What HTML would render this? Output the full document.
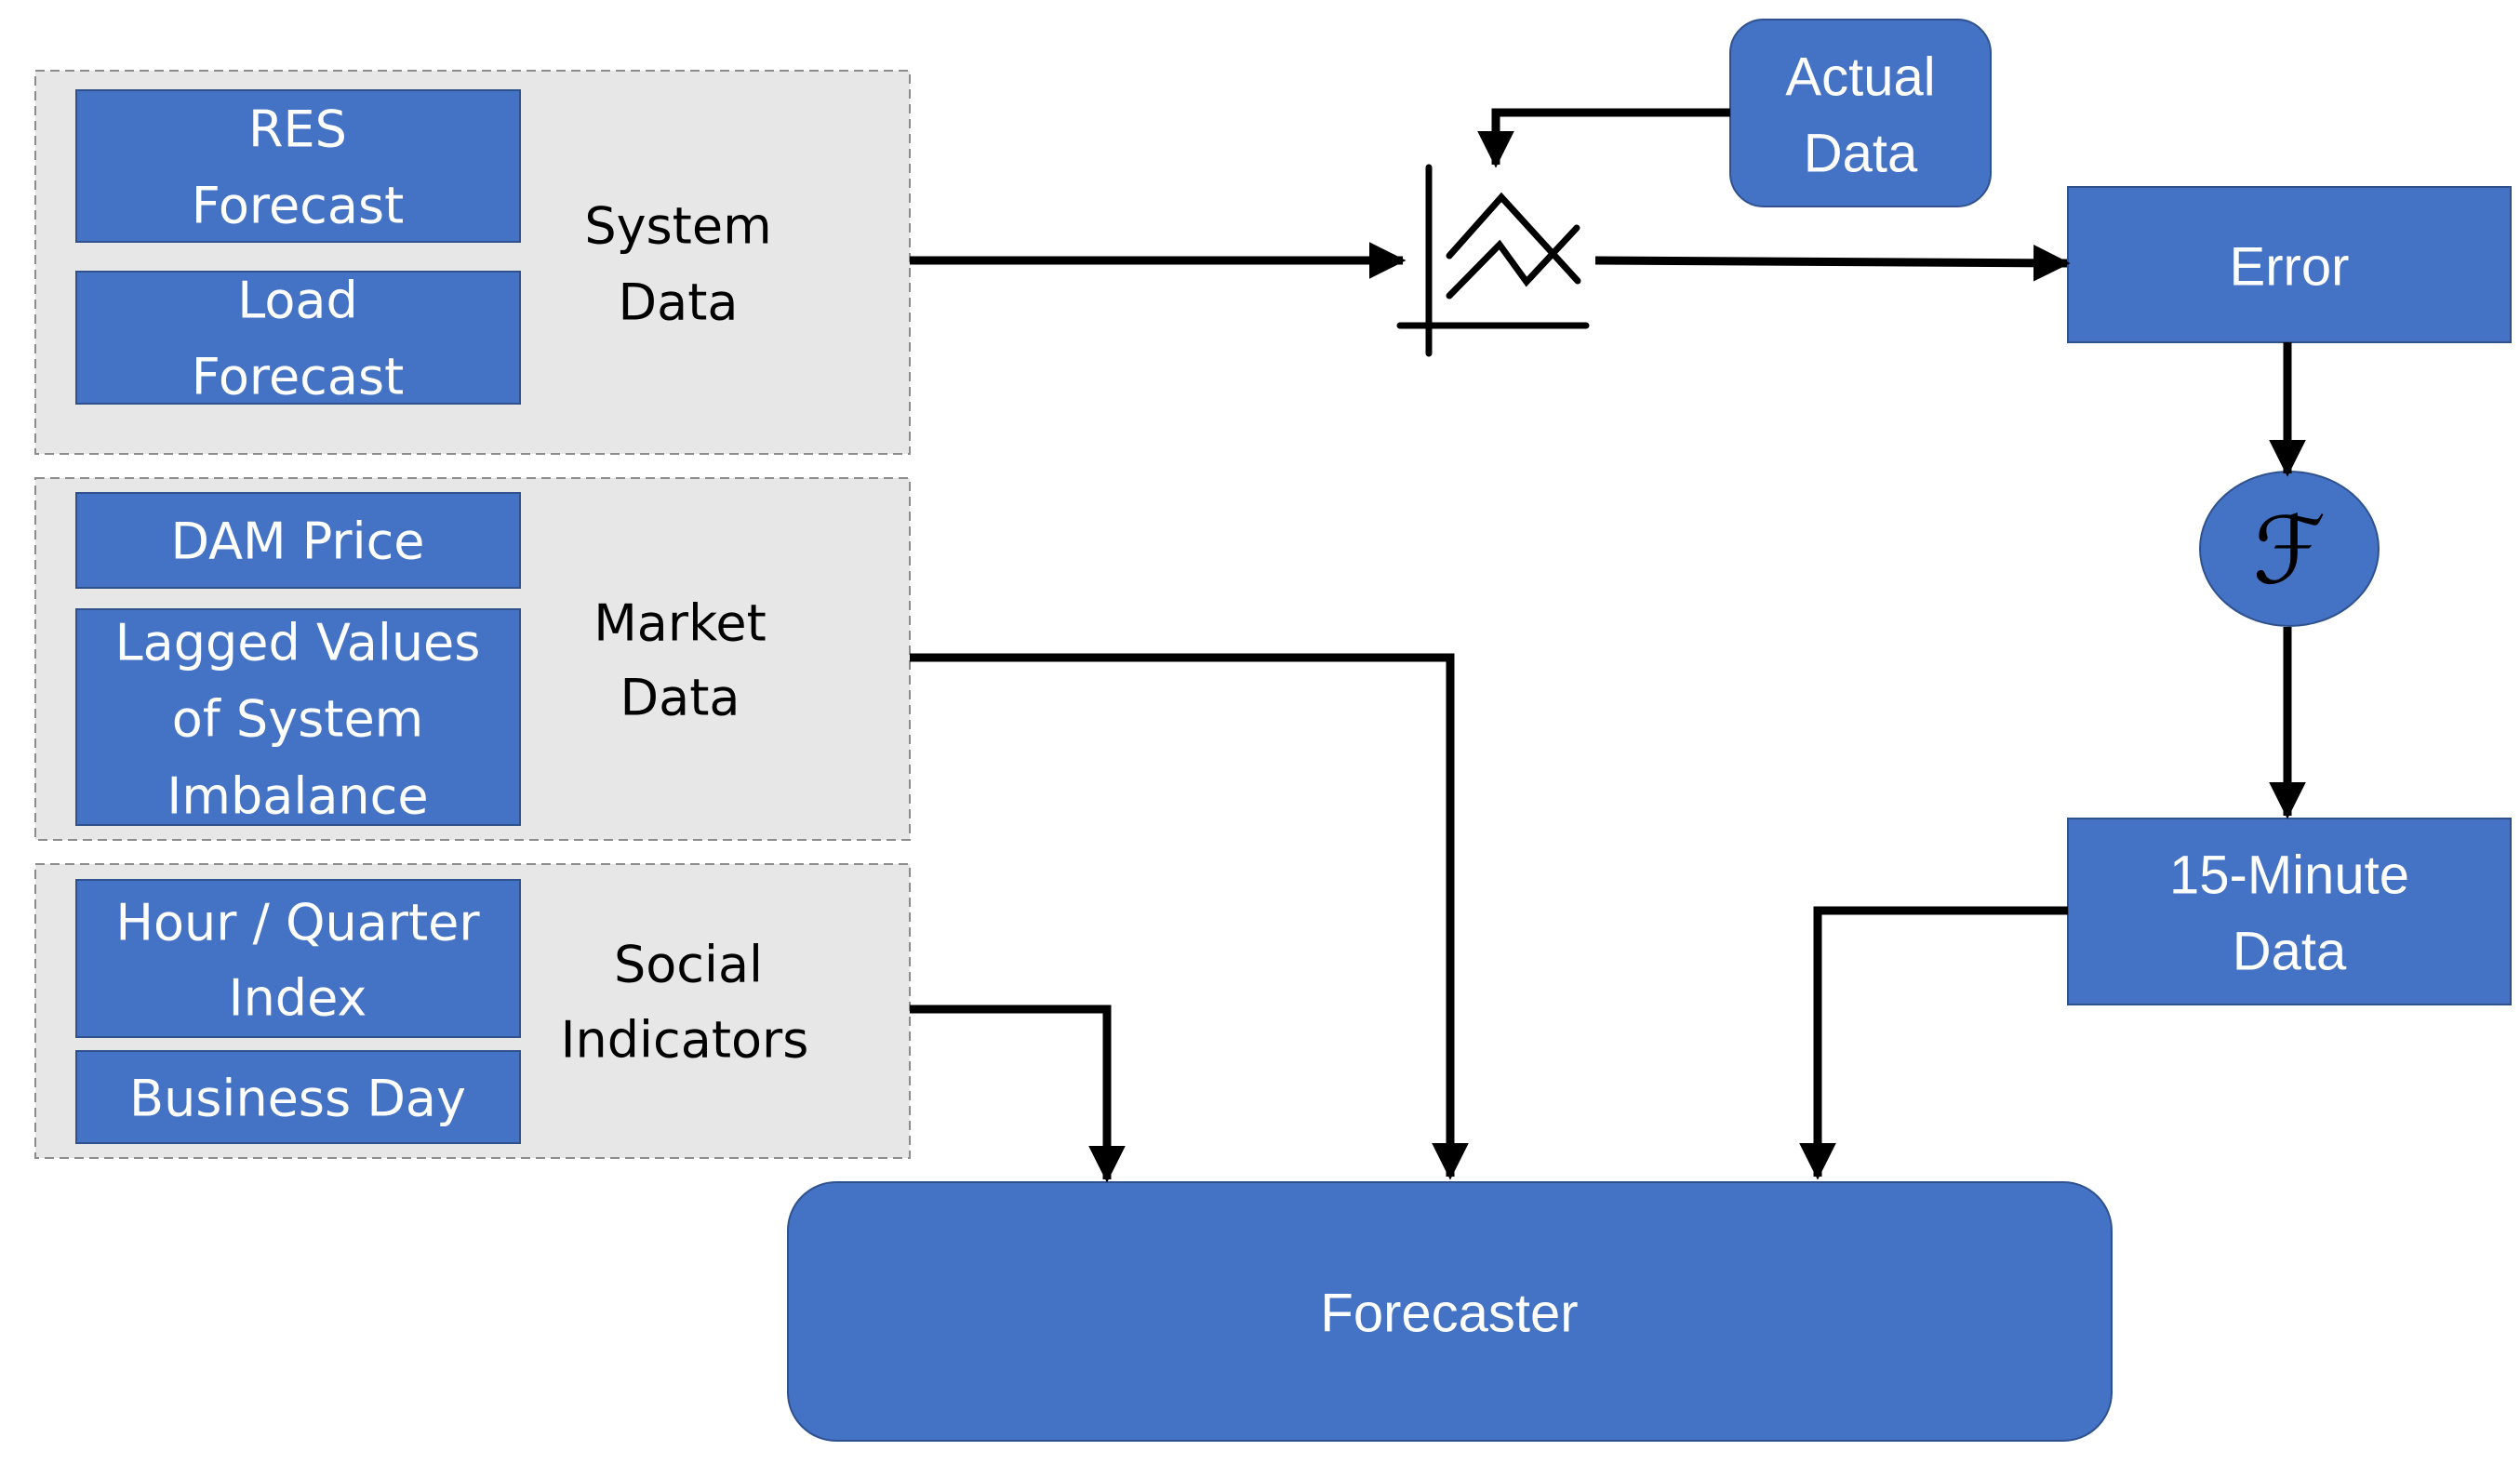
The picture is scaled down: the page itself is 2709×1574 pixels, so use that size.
<!DOCTYPE html>
<html><head><meta charset="utf-8"><style>
html,body{margin:0;padding:0;background:#fff;}
svg{display:block;}
.w{fill:#fff;font-family:"DejaVu Sans",sans-serif;font-size:54px;text-anchor:middle;dominant-baseline:central;}
.k{fill:#000;font-family:"DejaVu Sans",sans-serif;font-size:54px;text-anchor:middle;dominant-baseline:central;}
.r{fill:#fff;font-family:"Liberation Sans",sans-serif;font-size:58px;text-anchor:middle;dominant-baseline:central;}
</style></head><body>
<svg width="2709" height="1574" viewBox="0 0 2709 1574" xmlns="http://www.w3.org/2000/svg">
<defs>
<marker id="a" markerWidth="4.4" markerHeight="4.4" refX="4" refY="2.2" orient="auto" markerUnits="strokeWidth">
<path d="M0,0 L4.4,2.2 L0,4.4 Z" fill="#000"/></marker>
</defs>
<g fill="#e7e7e7" stroke="#8c8c8c" stroke-width="2" stroke-dasharray="10,6">
<rect x="38" y="76" width="940" height="412"/>
<rect x="38" y="514" width="940" height="389"/>
<rect x="38" y="929" width="940" height="316"/>
</g>
<g fill="#4472c4" stroke="#2f528f" stroke-width="2">
<rect x="82" y="97" width="477" height="163"/>
<rect x="82" y="292" width="477" height="142"/>
<rect x="82" y="530" width="477" height="102"/>
<rect x="82" y="655" width="477" height="232"/>
<rect x="82" y="946" width="477" height="169"/>
<rect x="82" y="1130" width="477" height="99"/>
<rect x="2223" y="201" width="476" height="167"/>
<rect x="2223" y="880" width="476" height="200"/>
<rect x="1860" y="21" width="280" height="201" rx="36"/>
<rect x="847" y="1271" width="1423" height="278" rx="52"/>
<ellipse cx="2461" cy="590" rx="96" ry="83"/>
</g>
<text class="w" x="320" y="139">RES</text>
<text class="w" x="320" y="221">Forecast</text>
<text class="w" x="320" y="323">Load</text>
<text class="w" x="320" y="405">Forecast</text>
<text class="w" x="320" y="582">DAM Price</text>
<text class="w" x="320" y="691">Lagged Values</text>
<text class="w" x="320" y="773">of System</text>
<text class="w" x="320" y="856">Imbalance</text>
<text class="w" x="320" y="992">Hour / Quarter</text>
<text class="w" x="320" y="1073">Index</text>
<text class="w" x="320" y="1181">Business Day</text>
<text class="k" x="729" y="243">System</text>
<text class="k" x="729" y="325">Data</text>
<text class="k" x="731" y="670">Market</text>
<text class="k" x="731" y="750">Data</text>
<text class="k" x="740" y="1037">Social</text>
<text class="k" x="736" y="1118">Indicators</text>
<text class="r" x="2000" y="83">Actual</text>
<text class="r" x="2000" y="165">Data</text>
<text class="r" x="2461" y="287">Error</text>
<text class="r" x="2461" y="941">15-Minute</text>
<text class="r" x="2461" y="1023">Data</text>
<text class="r" x="1558" y="1412">Forecaster</text>
<text x="2461" y="592" fill="#000" font-family="DejaVu Sans,sans-serif" font-size="100" text-anchor="middle" dominant-baseline="central">ℱ</text>
<g fill="none" stroke="#000" stroke-width="9" marker-end="url(#a)">
<path d="M978,280 H1508"/>
<path d="M1860,121 H1608 V177"/>
<path d="M1715,280 L2222,283"/>
<path d="M2459,368 V509"/>
<path d="M2459,674 V877"/>
<path d="M2223,979 H1954 V1265"/>
<path d="M978,707 H1559 V1265"/>
<path d="M978,1085 H1190 V1268"/>
</g>
<g fill="none" stroke="#000" stroke-width="7" stroke-linecap="round" stroke-linejoin="miter">
<path d="M1536,180 V380"/>
<path d="M1505,350 H1705"/>
<path d="M1558,275 L1614,212 L1696,302"/>
<path d="M1558,318 L1612,263 L1641,303 L1695,245"/>
</g>
</svg>
</body></html>
